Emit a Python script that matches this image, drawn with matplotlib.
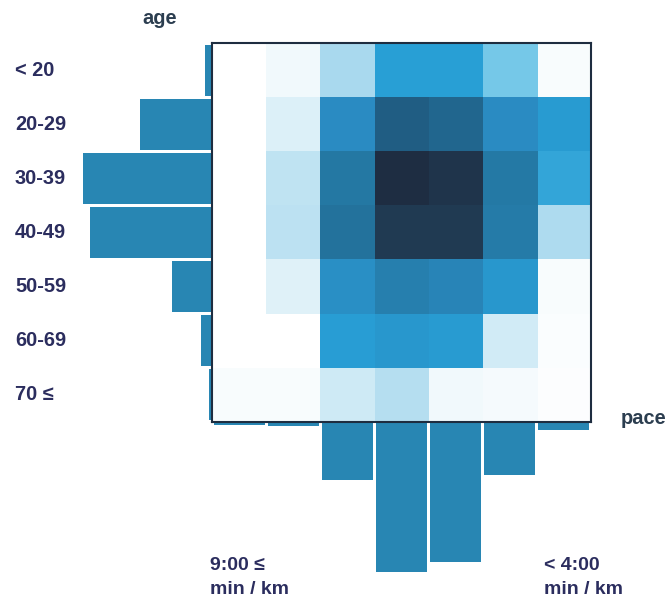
import numpy as np
import matplotlib
matplotlib.use('Agg')
import matplotlib.pyplot as plt
from matplotlib.colors import LinearSegmentedColormap

plt.rcParams['font.family'] = ['Liberation Sans', 'DejaVu Sans']

age_labels = ['< 20', '20-29', '30-39', '40-49', '50-59', '60-69', '70 \u2264']
pace_labels = ['9:00 \u2264', '< 4:00']

# runners per age group (left histogram) and per pace group (bottom histogram)
age_counts = [7, 72, 129, 122, 40, 11, 3]
pace_counts = [2, 3, 57, 149, 139, 52, 7]

# density of age x pace (rows: age, cols: pace slow -> fast)
density = np.array([
    [0.00, 0.04, 0.24, 0.50, 0.50, 0.35, 0.02],
    [0.00, 0.10, 0.60, 0.84, 0.80, 0.60, 0.52],
    [0.00, 0.18, 0.71, 1.00, 0.96, 0.70, 0.48],
    [0.00, 0.19, 0.74, 0.93, 0.93, 0.69, 0.23],
    [0.00, 0.09, 0.58, 0.67, 0.64, 0.54, 0.02],
    [0.00, 0.00, 0.51, 0.54, 0.52, 0.13, 0.015],
    [0.02, 0.02, 0.14, 0.21, 0.04, 0.03, 0.01],
])

cmap = LinearSegmentedColormap.from_list('runner', [
    (0.0, '#ffffff'), (0.1, '#dcf0f8'), (0.25, '#a6d8ee'), (0.35, '#75c8e8'),
    (0.5, '#28a0d6'), (0.6, '#2a8bc2'), (0.7, '#257aa6'), (0.84, '#205f85'),
    (0.93, '#213b53'), (1.0, '#1e2d42')])

bar_col = '#2886b3'
edge_col = '#1e2d40'
lab_col = '#2b2d5e'
ax_col = '#2c3e50'

W, H = 669, 599
fig = plt.figure(figsize=(W / 100, H / 100), dpi=100)

def px_axes(x0, y0, x1, y1):
    return fig.add_axes([x0 / W, 1 - y1 / H, (x1 - x0) / W, (y1 - y0) / H])

n = len(age_labels)
idx = np.arange(n)

# left histogram
axl = px_axes(80, 43, 212, 422)
axl.barh(idx, age_counts, height=0.94, color=bar_col)
axl.set_xlim(132, 0)
axl.set_ylim(n - 0.5, -0.5)
axl.axis('off')

# bottom histogram
axb = px_axes(212, 423, 591, 576)
axb.bar(idx, pace_counts, width=0.94, color=bar_col)
axb.set_ylim(153, 0)
axb.set_xlim(-0.5, n - 0.5)
axb.axis('off')

# heatmap
ax = px_axes(212, 43, 591, 422)
ax.imshow(density, cmap=cmap, vmin=0, vmax=1, aspect='auto',
          interpolation='nearest', extent=(-0.5, n - 0.5, n - 0.5, -0.5))
ax.set_xticks([])
ax.set_yticks([])
for s in ax.spines.values():
    s.set_color(edge_col)
    s.set_linewidth(1.5)

# labels
for i, lab in enumerate(age_labels):
    yc = 43 + (i + 0.5) * 379 / n
    fig.text(15 / W, 1 - yc / H, lab, ha='left', va='center',
             fontsize=14.4, fontweight='bold', color=lab_col)

fig.text(160 / W, 1 - 18 / H, 'age', ha='center', va='center',
         fontsize=14.4, fontweight='bold', color=ax_col)
fig.text(621 / W, 1 - 418 / H, 'pace', ha='left', va='center',
         fontsize=14.4, fontweight='bold', color=ax_col)

for x0, lab in zip([210, 544], pace_labels):
    fig.text(x0 / W, 1 - 566 / H, lab, ha='left', va='center',
             fontsize=14, fontweight='bold', color=lab_col)
    fig.text(x0 / W, 1 - 590 / H, 'min / km', ha='left', va='center',
             fontsize=14, fontweight='bold', color=lab_col)

plt.savefig('out.png', dpi=100)
